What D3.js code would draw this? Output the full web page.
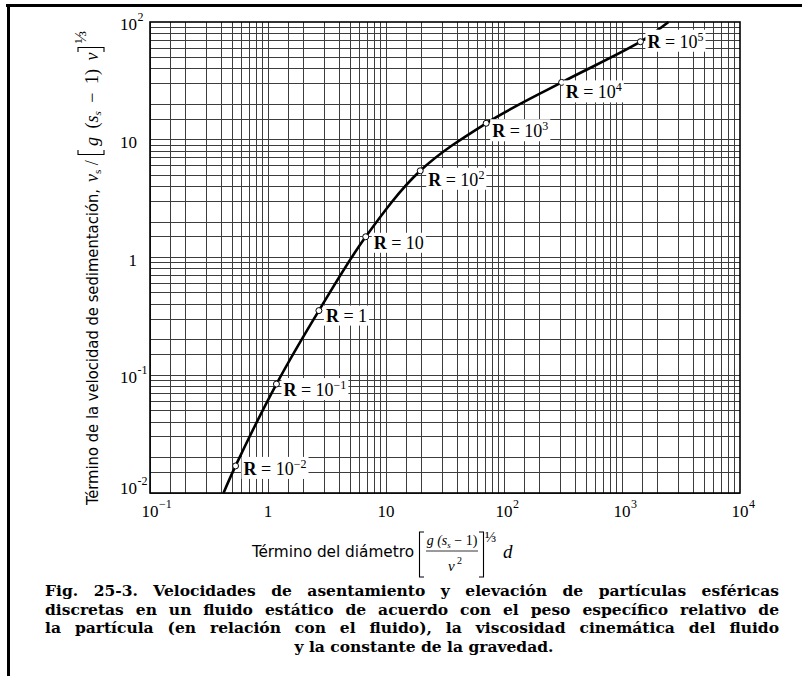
<!DOCTYPE html>
<html>
<head>
<meta charset="utf-8">
<script src="https://cdn.jsdelivr.net/npm/d3@7"></script>
<style>
body { margin: 0; background: #fff; }
svg { display: block; }
.sans { font-family: "DejaVu Sans Condensed", "Liberation Sans Narrow", sans-serif; }
.serif { font-family: "Liberation Serif", "DejaVu Serif", serif; }
.caption { font-family: "DejaVu Serif", "Liberation Serif", serif; font-weight: bold; }
</style>
</head>
<body>
<svg id="chart" width="802" height="676"></svg>
<script>
// --- Data ---
const xTickValues = [0.1, 1, 10, 100, 1000, 10000];
const xTickBase   = ['10', '1', '10', '10', '10', '10'];
const xTickSup    = ['−1', '', '', '2', '3', '4'];

const yTickValues = [0.01, 0.1, 1, 10, 100];
const yTickBase   = ['10', '10', '1', '10', '10'];
const yTickSup    = ['-2', '-1', '', '', '2'];

// log paper subdivisions inside each decade
const gridSteps = [1, 1.5, 2, 3, 4, 5, 6, 7, 8, 9];

// settling curve (diameter term, velocity term)
const curveX = [0.420, 0.531, 1.179, 2.70, 6.73, 19.5, 70.6, 308, 1432, 2477];
const curveY = [0.0100, 0.01698, 0.0842, 0.354, 1.50, 5.45, 13.8, 30.7, 68.0, 100];

// Reynolds number markers
const markerX   = [0.531, 1.179, 2.70, 6.73, 19.5, 70.6, 308, 1432];
const markerY   = [0.01698, 0.0842, 0.354, 1.50, 5.45, 13.8, 30.7, 68.0];
const markerExp = [-2, -1, 0, 1, 2, 3, 4, 5];

const captionLines = [
    'Fig. 25-3. Velocidades de asentamiento y elevación de partículas esféricas',
    'discretas en un fluido estático de acuerdo con el peso específico relativo de',
    'la partícula (en relación con el fluido), la viscosidad cinemática del fluido',
    'y la constante de la gravedad.'
];

// --- Layout ---
const plot = { left: 150, right: 740, top: 22, bottom: 493 };
const labelDx = [8, 7, 7, 8, 8, 6, 4, 7];
const labelDy = [9, 12, 11, 12, 15, 14, 16, 6];

const svg = d3.select('#chart');

const x = d3.scaleLog().domain([0.1, 10000]).range([plot.left, plot.right]);
const y = d3.scaleLog().domain([0.01, 100]).range([plot.bottom, plot.top]);

// page frame (top and left rules)
svg.append('line').attr('x1', 6).attr('x2', 802).attr('y1', 5.5).attr('y2', 5.5)
    .attr('stroke', '#000').attr('stroke-width', 3);
svg.append('line').attr('x1', 8.5).attr('x2', 8.5).attr('y1', 4).attr('y2', 676)
    .attr('stroke', '#000').attr('stroke-width', 3);

// --- Grid ---
function gridValues(domain) {
    const out = [];
    for (let e = Math.log10(domain[0]); e < Math.log10(domain[1]); e++) {
        gridSteps.forEach(s => out.push(s * Math.pow(10, e)));
    }
    return out;
}
const grid = svg.append('g').attr('shape-rendering', 'crispEdges');
grid.selectAll('.vgrid')
    .data(gridValues(x.domain()))
    .join('line')
    .attr('x1', d => x(d)).attr('x2', d => x(d))
    .attr('y1', plot.top).attr('y2', plot.bottom)
    .attr('stroke', '#3c3c3c').attr('stroke-width', 1);
grid.selectAll('.hgrid')
    .data(gridValues(y.domain()))
    .join('line')
    .attr('y1', d => y(d)).attr('y2', d => y(d))
    .attr('x1', plot.left).attr('x2', plot.right)
    .attr('stroke', '#3c3c3c').attr('stroke-width', 1);

svg.append('rect')
    .attr('x', plot.left).attr('y', plot.top)
    .attr('width', plot.right - plot.left).attr('height', plot.bottom - plot.top)
    .attr('fill', 'none').attr('stroke', '#000').attr('stroke-width', 1.6);

// --- Tick labels ---
const xLab = svg.append('g').attr('class', 'serif');
xTickValues.forEach((v, i) => {
    const t = xLab.append('text')
        .attr('x', x(v)).attr('y', 517)
        .attr('text-anchor', 'middle').attr('font-size', 17)
        .text(xTickBase[i]);
    if (xTickSup[i]) {
        const b = t.node().getBBox();
        xLab.append('text').attr('x', b.x + b.width + 0.5).attr('y', 508)
            .attr('font-size', 12).text(xTickSup[i]);
    }
});

const yLab = svg.append('g').attr('class', 'serif');
yTickValues.forEach((v, i) => {
    const base = Math.min(y(v) + 8, plot.bottom + 1);
    yLab.append('text')
        .attr('x', 137).attr('y', base)
        .attr('text-anchor', 'end').attr('font-size', 17)
        .text(yTickBase[i]);
    if (yTickSup[i]) {
        yLab.append('text').attr('x', 137.5).attr('y', base - 9)
            .attr('font-size', 12).text(yTickSup[i]);
    }
});

// --- Curve ---
const pts = curveX.map((d, i) => [d, curveY[i]]);
const line = d3.line().x(d => x(d[0])).y(d => y(d[1])).curve(d3.curveCatmullRom.alpha(0.5));
svg.append('path').datum(pts)
    .attr('d', line)
    .attr('fill', 'none').attr('stroke', '#000').attr('stroke-width', 2.6);

svg.selectAll('.marker')
    .data(markerX.map((d, i) => ({ x: d, y: markerY[i] })))
    .join('circle')
    .attr('cx', d => x(d.x)).attr('cy', d => y(d.y)).attr('r', 3)
    .attr('fill', '#fff').attr('stroke', '#000').attr('stroke-width', 1);

// marker labels with white knock-out boxes
markerX.forEach((mx, i) => {
    const g = svg.append('g');
    const bg = g.append('rect').attr('fill', '#fff');
    const t = g.append('text').attr('class', 'serif')
        .attr('x', x(mx) + labelDx[i]).attr('y', y(markerY[i]) + labelDy[i])
        .attr('font-size', 18);
    t.append('tspan').attr('font-weight', 'bold').text('R');
    const ex = markerExp[i];
    t.append('tspan').text(ex === 0 ? ' = 1' : ' = 10');
    if (ex !== 1 && ex !== 0) {
        t.append('tspan').attr('font-size', 12).attr('dy', -7)
            .text(ex < 0 ? '−' + Math.abs(ex) : String(ex));
    }
    const b = t.node().getBBox();
    bg.attr('x', b.x - 2).attr('y', b.y).attr('width', b.width + 4).attr('height', b.height);
});

// --- Axis titles ---
// x title
svg.append('text').attr('class', 'sans')
    .attr('x', 252).attr('y', 557).attr('font-size', 16)
    .attr('textLength', 162).attr('lengthAdjust', 'spacingAndGlyphs')
    .text('Término del diámetro');
const br = svg.append('g').attr('fill', 'none').attr('stroke', '#000').attr('stroke-width', 1.1);
br.append('path').attr('d', 'M424,532H419.5V577H424');
br.append('path').attr('d', 'M479,532H483.5V577H479');
br.append('line').attr('x1', 426).attr('x2', 478).attr('y1', 551).attr('y2', 551).attr('stroke-width', 0.8);
const num = svg.append('text').attr('class', 'serif').attr('font-style', 'italic')
    .attr('x', 452).attr('y', 545).attr('text-anchor', 'middle').attr('font-size', 14);
num.append('tspan').text('g (s');
num.append('tspan').attr('font-size', 9).attr('dy', 3).text('s');
num.append('tspan').attr('dy', -3).attr('font-style', 'normal').text(' − 1)');
const den = svg.append('text').attr('class', 'serif').attr('font-style', 'italic')
    .attr('x', 455).attr('y', 571).attr('text-anchor', 'middle').attr('font-size', 15);
den.append('tspan').text('ν');
den.append('tspan').attr('font-size', 10).attr('font-style', 'normal').attr('dy', -7).text(' 2');
svg.append('text').attr('class', 'serif').attr('x', 485).attr('y', 542).attr('font-size', 15).text('⅓');
svg.append('text').attr('class', 'serif').attr('font-style', 'italic')
    .attr('x', 503).attr('y', 558).attr('font-size', 19).text('d');

// y title (rotated)
const yt = svg.append('g').attr('transform', 'translate(98,505) rotate(-90)');
yt.append('text').attr('class', 'sans').attr('font-size', 16)
    .attr('textLength', 316).attr('lengthAdjust', 'spacingAndGlyphs')
    .text('Término de la velocidad de sedimentación,');
const v = yt.append('text').attr('class', 'serif').attr('x', 323).attr('font-size', 18);
v.append('tspan').attr('font-style', 'italic').text('v');
v.append('tspan').attr('font-size', 11).attr('dy', 3).text('s');
v.append('tspan').attr('dy', -3).text(' /');
const yb = yt.append('g').attr('fill', 'none').attr('stroke', '#000').attr('stroke-width', 1.1);
yb.append('path').attr('d', 'M355,-20H350.5V6H355');
const inner = yt.append('text').attr('class', 'serif').attr('x', 359).attr('font-size', 18)
    .attr('word-spacing', 4);
inner.append('tspan').attr('font-style', 'italic').text('g');
inner.append('tspan').text(' (');
inner.append('tspan').attr('font-style', 'italic').text('s');
inner.append('tspan').attr('font-size', 11).attr('font-style', 'italic').attr('dy', 3).text('s');
inner.append('tspan').attr('dy', -3).text(' − 1) ');
inner.append('tspan').attr('font-style', 'italic').text('ν');
const iw = inner.node().getComputedTextLength();
const rb = 359 + iw + 5;
yb.append('path').attr('d', `M${rb - 4.5},-20H${rb}V6H${rb - 4.5}`);
yt.append('text').attr('class', 'serif').attr('x', rb + 4).attr('y', -12).attr('font-size', 17).text('⅓');

// --- Caption (justified) ---
const capBase = [596, 614.5, 633, 651.5];
const capLeft = 45, capRight = 779;
captionLines.forEach((txt, i) => {
    const t = svg.append('text').attr('class', 'caption')
        .attr('y', capBase[i]).attr('font-size', 15.5).text(txt);
    if (i < captionLines.length - 1) {
        const w = t.node().getComputedTextLength();
        const spaces = txt.split(' ').length - 1;
        t.attr('x', capLeft).attr('word-spacing', (capRight - capLeft - w) / spaces);
    } else {
        t.attr('x', 424).attr('text-anchor', 'middle');
    }
});
</script>
</body>
</html>
